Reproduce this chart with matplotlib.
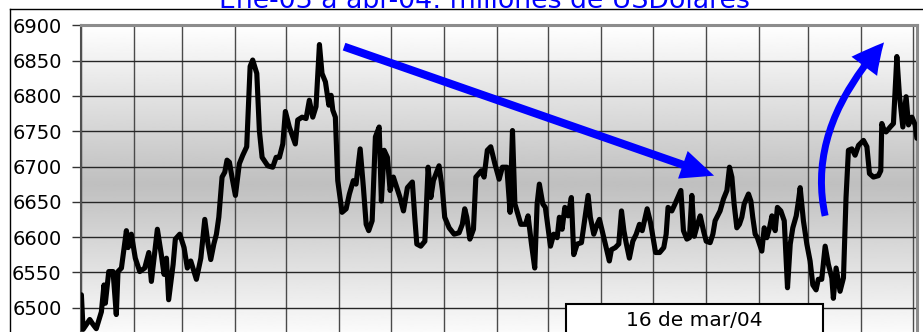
import numpy as np
import pandas as pd
import matplotlib.pyplot as plt
from matplotlib.patches import FancyArrowPatch, Rectangle
from matplotlib.path import Path
from matplotlib.lines import Line2D

# Saldo diario (millones de USD); dias contados desde el 1 de enero de 2003
dias = np.array([
    0.2, 1.2, 5.1, 7.0, 8.9, 11.9, 13.4, 14.2, 16.2, 18.7, 20.6, 21.6, 23.6, 26.5, 27.5, 29.4,
    31.7, 34.3, 37.2, 39.6, 41.1, 44.6, 46.9, 48.5, 49.9, 51.2, 53.8, 55.1, 57.7, 60.2, 62.1, 64.1,
    67.4, 70.0, 72.3, 74.2, 75.8, 77.6, 79.1, 80.5, 82.4, 84.0, 85.3, 86.7, 88.2, 90.2, 92.5, 94.5,
    96.8, 98.8, 100.3, 102.7, 104.2, 105.8, 109.1, 112.0, 114.0, 115.9, 117.9, 119.4, 121.7, 125.2,
    126.6, 129.2, 131.5, 133.4, 135.4, 137.3, 139.3, 140.8, 142.8, 144.8, 146.1, 147.1, 148.6, 150.0,
    152.5, 154.9, 156.8, 159.1, 160.7, 163.1, 165.0, 166.6, 168.1, 170.1, 172.0, 174.2, 175.5, 177.1,
    179.0, 180.6, 182.5, 184.5, 186.4, 188.4, 190.7, 193.6, 195.0, 196.2, 198.5, 200.9, 202.8, 204.4,
    205.9, 209.2, 211.2, 212.5, 215.1, 218.0, 220.9, 222.8, 224.2, 225.4, 227.2, 229.3, 230.7, 233.9,
    235.5, 237.4, 239.4, 241.8, 244.3, 246.2, 248.8, 250.7, 252.1, 253.5, 257.0, 259.7, 261.2, 263.2,
    265.1, 266.5, 267.8, 269.8, 271.3, 274.3, 276.2, 278.2, 279.5, 281.1, 282.7, 284.6, 286.5, 287.9,
    289.9, 292.4, 296.3, 297.6, 299.6, 301.6, 302.9, 304.5, 308.7, 309.9, 312.2, 314.2, 315.8, 317.2,
    318.5, 320.4, 322.4, 324.4, 326.3, 327.9, 330.8, 332.8, 335.7, 338.1, 340.5, 341.9, 343.0, 345.2,
    347.1, 350.5, 352.0, 354.0, 355.5, 356.9, 358.3, 360.2, 361.8, 363.7, 365.3, 367.6, 369.2, 370.5,
    373.4, 375.4, 377.4, 378.9, 380.3, 381.6, 383.2, 384.7, 386.1, 387.5, 390.0, 391.4, 392.5, 393.9,
    395.2, 397.8, 399.2, 400.7, 402.3, 403.7, 405.6, 406.9, 408.9, 410.9, 412.8, 414.4, 415.9, 417.9,
    419.2, 420.2, 422.1, 424.1, 426.0, 427.6, 429.5, 430.8, 432.8, 434.8, 436.7, 438.7, 439.6, 441.2,
    443.5, 445.5, 447.0, 448.4, 450.4, 452.3, 454.3, 457.2, 459.2, 460.7, 463.0, 465.9, 467.3, 467.9,
    468.9, 470.4, 472.8, 474.7, 476.7, 478.2, 480.2, 482.1, 483.5, 485.5, 487.4, 488.4,
])
saldo = np.array([
    6518, 6469, 6483, 6476, 6470, 6494, 6532, 6506, 6551, 6551, 6490, 6551, 6556, 6609, 6585, 6604,
    6570, 6551, 6556, 6578, 6537, 6611, 6575, 6547, 6570, 6511, 6561, 6597, 6604, 6585, 6556, 6566,
    6540, 6570, 6625, 6590, 6568, 6590, 6604, 6628, 6685, 6692, 6709, 6706, 6685, 6659, 6704, 6716,
    6728, 6842, 6851, 6832, 6751, 6713, 6701, 6699, 6713, 6713, 6732, 6778, 6756, 6732,
    6766, 6770, 6768, 6794, 6770, 6785, 6873, 6832, 6820, 6787, 6801, 6780, 6770, 6680,
    6635, 6640, 6661, 6680, 6675, 6725, 6670, 6618, 6609, 6623, 6742, 6756, 6651, 6723,
    6713, 6666, 6685, 6670, 6656, 6637, 6670, 6678, 6628, 6590, 6587, 6594, 6699, 6656,
    6680, 6701, 6666, 6628, 6613, 6604, 6606, 6618, 6640, 6628, 6597, 6611, 6685, 6694,
    6685, 6723, 6728, 6704, 6682, 6699, 6699, 6635, 6751, 6647, 6618, 6618, 6630, 6590,
    6556, 6647, 6675, 6647, 6642, 6587, 6604, 6599, 6628, 6611, 6642, 6630, 6656, 6575,
    6590, 6592, 6659, 6628, 6604, 6618, 6625, 6609, 6566, 6582, 6585, 6590, 6637, 6609,
    6592, 6570, 6594, 6604, 6618, 6609, 6640, 6620, 6578, 6578, 6585, 6604, 6642, 6637,
    6647, 6666, 6609, 6597, 6599, 6659, 6601, 6618, 6630, 6609, 6594, 6592, 6604, 6623,
    6637, 6654, 6666, 6699, 6685, 6647, 6613, 6618, 6628, 6647, 6661, 6651, 6628, 6604,
    6599, 6580, 6613, 6599, 6613, 6630, 6609, 6642, 6637, 6623, 6528, 6590, 6613, 6630,
    6651, 6670, 6623, 6590, 6566, 6532, 6525, 6540, 6540, 6587, 6561, 6542, 6513, 6556,
    6523, 6542, 6656, 6723, 6725, 6716, 6730, 6737, 6728, 6690, 6685, 6687, 6694, 6761,
    6754, 6749, 6756, 6761, 6856, 6801, 6756, 6799, 6759, 6770, 6759, 6740,
])

titulo = "Ene-03 a abr-04: millones de USDolares"
etiqueta_fecha = "16 de mar/04"
valores_y = [6500, 6550, 6600, 6650, 6700, 6750, 6800, 6850, 6900]

# Flechas de tendencia (dia, saldo)
baja_inicio, baja_fin = (153.7, 6870), (369.9, 6687)
subida = [(434.8, 6630), (423.7, 6754), (469.2, 6876)]

inicio = pd.Timestamp("2003-01-01")
meses = pd.date_range("2003-01-01", "2004-05-01", freq="MS")
dias_mes = np.asarray((meses - inicio).days)

fig = plt.figure(figsize=(9.23, 3.32), dpi=100)
ax = fig.add_axes([0.0878, -0.0324, 0.9052, 0.9556])

# fondo degradado: blanco arriba y abajo, gris al centro
f = np.linspace(0, 1, 256)[:, None]
tono = 0.75 + 0.25 * np.abs(2 * f - 1)
ax.imshow(tono, extent=(0, 1, 0, 1), transform=ax.transAxes, cmap="gray",
          vmin=0, vmax=1, aspect="auto", origin="lower", zorder=0)

ax.plot(dias, saldo, color="black", lw=3.7, solid_joinstyle="round",
        solid_capstyle="round", zorder=3)

ax.set_xlim(0, 488.2)
ax.set_ylim(6450, 6900)
ax.set_xticks(dias_mes)
ax.set_yticks(valores_y)
ax.set_axisbelow(True)
ax.grid(axis="x", color="#4a4a4a", lw=1.0)
ax.grid(axis="y", color="#262626", lw=1.0)
ax.tick_params(axis="x", length=0, labelbottom=False)
ax.tick_params(axis="y", length=6.5, width=1.0, color="#333333", pad=7.4,
               labelsize=14)

ax.spines["bottom"].set_visible(False)
ax.spines["left"].set_color("#505050")
ax.spines["left"].set_linewidth(1.5)
for lado in ("top", "right"):
    ax.spines[lado].set_color("#8c8c8c")
    ax.spines[lado].set_linewidth(2.2)

azul = "#0000ff"
flecha1 = FancyArrowPatch(baja_inicio, baja_fin,
                          arrowstyle="simple,head_length=2.38,head_width=2.1,tail_width=0.58",
                          mutation_scale=10, facecolor=azul, edgecolor="none",
                          lw=0, shrinkA=0, shrinkB=0, zorder=4)
ax.add_patch(flecha1)

curva = Path(subida, [Path.MOVETO, Path.CURVE3, Path.CURVE3])
flecha2 = FancyArrowPatch(path=curva, transform=ax.transData,
                          arrowstyle="simple,head_length=2.23,head_width=2.3,tail_width=0.5",
                          mutation_scale=10, facecolor=azul, edgecolor="none",
                          lw=0, zorder=4)
ax.add_patch(flecha2)

# marco del area del grafico
y_marco = 1 - 9 / 332
fig.add_artist(Line2D([10 / 923, 1], [y_marco, y_marco], color="black", lw=1.0))
fig.add_artist(Line2D([10 / 923, 10 / 923], [0, y_marco], color="black", lw=1.0))

fig.text(0.5244, 1 - 8.3 / 332, titulo, color=azul, fontsize=19.3,
         ha="center", va="baseline")

caja = Rectangle((566 / 923, -0.05), 257 / 923, 28 / 332 + 0.05,
                 transform=fig.transFigure, facecolor="white",
                 edgecolor="black", lw=1.5, zorder=5)
fig.add_artist(caja)
fig.text(694 / 923, 1 - 325.7 / 332, etiqueta_fecha, fontsize=14.5,
         ha="center", va="baseline", zorder=6)

fig.savefig("out.png", dpi=100)
